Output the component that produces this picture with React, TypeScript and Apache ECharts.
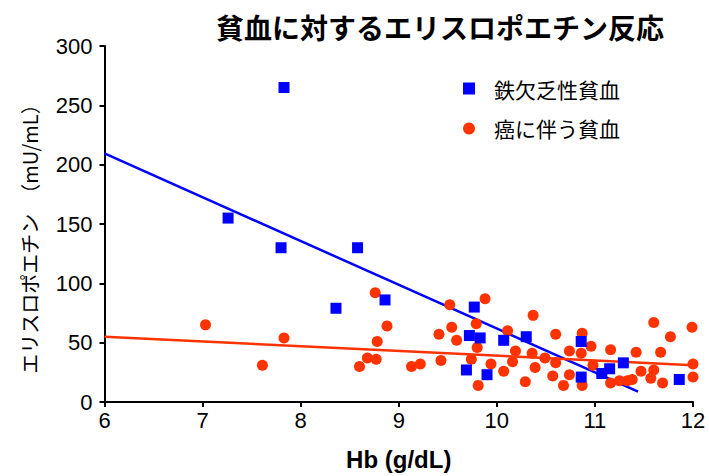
import React, { useEffect, useRef } from "react";
import * as echarts from "echarts";

const titleText = "貧血に対するエリスロポエチン反応";
const seriesNames = ["鉄欠乏性貧血", "癌に伴う貧血"];
const xAxisName = "Hb (g/dL)";
const yAxisName = "エリスロポエチン　（mU/mL）";

const ironHb = [7.83, 7.26, 7.80, 8.58, 8.36, 8.86, 9.77, 9.72, 9.83, 10.07, 10.30, 10.86, 9.69, 9.90, 10.86, 11.07, 11.15, 11.29, 11.86];
const ironEpo = [265, 155, 130, 130, 79, 86, 80, 56, 54, 52, 55, 51, 27, 23, 21, 24, 28, 33, 19];

const cancerHb = [7.03, 7.61, 7.83, 8.60, 8.68, 8.76, 8.77, 8.78, 8.88, 9.13, 9.22, 9.41, 9.43, 9.52, 9.54, 9.59, 9.74, 9.79, 9.80, 9.81, 9.88, 9.94, 10.07, 10.11, 10.16, 10.19, 10.29, 10.36, 10.37, 10.39, 10.49, 10.57, 10.60, 10.60, 10.68, 10.74, 10.74, 10.86, 10.87, 10.87, 10.96, 10.98, 11.16, 11.16, 11.25, 11.33, 11.38, 11.42, 11.47, 11.57, 11.60, 11.60, 11.67, 11.69, 11.77, 11.99, 12.0, 12.0];
const cancerEpo = [65, 31, 54, 30, 37, 92, 36, 51, 64, 30, 32, 57, 35, 82, 63, 52, 36, 66, 46, 14, 87, 32, 26, 60, 34, 43, 17, 41, 73, 29, 37, 22, 57, 33, 14, 43, 23, 41, 58, 14, 47, 31, 44, 16, 18, 18, 19, 42, 26, 20, 67, 27, 42, 16, 55, 63, 32, 21];

const ironFitHb = [6, 11.44];
const ironFitEpo = [209.5, 8.7];
const cancerFitHb = [6, 12];
const cancerFitEpo = [55, 31];

const xTicks = [6, 7, 8, 9, 10, 11, 12];
const yTicks = [0, 50, 100, 150, 200, 250, 300];

const BLUE = "#0000ff";
const RED = "#ff3300";
const LATIN = "'Liberation Sans', Arial, sans-serif";
const CJK = "'Noto Sans CJK JP', 'Liberation Sans', sans-serif";

const zip = (a: number[], b: number[]) => a.map((v, i) => [v, b[i]]);

export default function App() {
  const ref = useRef<HTMLDivElement>(null);
  useEffect(() => {
    if (!ref.current) return;
    const chart = echarts.init(ref.current, undefined, { renderer: "svg" });
    chart.setOption({
      animation: false,
      backgroundColor: "#ffffff",
      title: {
        text: titleText,
        left: 211,
        top: 8,
        textStyle: { fontFamily: CJK, fontSize: 28, fontWeight: "bold", color: "#000" },
      },
      legend: {
        data: seriesNames,
        orient: "vertical",
        left: 463,
        top: 78,
        padding: 0,
        itemWidth: 12,
        itemHeight: 12,
        itemGap: 19,
        textStyle: { fontFamily: CJK, fontSize: 21, color: "#000", padding: [0, 0, 0, 14] },
      },
      graphic: [
        {
          type: "text",
          x: 29,
          y: 234,
          rotation: Math.PI / 2,
          style: {
            text: yAxisName,
            fontFamily: CJK,
            fontSize: 20,
            fill: "#000",
            align: "center",
            verticalAlign: "middle",
          },
        },
      ],
      grid: { left: 104.5, right: 16, top: 46, bottom: 72.3, containLabel: false },
      xAxis: {
        type: "value",
        min: xTicks[0],
        max: xTicks[xTicks.length - 1],
        interval: 1,
        name: xAxisName,
        nameLocation: "middle",
        nameGap: 45,
        nameTextStyle: { fontFamily: LATIN, fontSize: 24, fontWeight: "bold", color: "#000" },
        axisLine: { show: true, onZero: false, lineStyle: { color: "#000", width: 2 } },
        axisTick: { show: true, inside: false, length: 5, lineStyle: { color: "#000", width: 2 } },
        axisLabel: { fontFamily: LATIN, fontSize: 22, color: "#000", margin: 7 },
        splitLine: { show: false },
      },
      yAxis: {
        type: "value",
        min: yTicks[0],
        max: yTicks[yTicks.length - 1],
        interval: 50,
        axisLine: { show: true, lineStyle: { color: "#000", width: 2 } },
        axisTick: { show: true, inside: false, length: 5, lineStyle: { color: "#000", width: 2 } },
        axisLabel: { fontFamily: LATIN, fontSize: 22, color: "#000", margin: 12 },
        splitLine: { show: false },
      },
      series: [
        {
          name: "ironFit",
          type: "line",
          data: zip(ironFitHb, ironFitEpo),
          showSymbol: false,
          symbol: "none",
          lineStyle: { color: BLUE, width: 2.5 },
          z: 1,
        },
        {
          name: "cancerFit",
          type: "line",
          data: zip(cancerFitHb, cancerFitEpo),
          showSymbol: false,
          symbol: "none",
          lineStyle: { color: RED, width: 2.5 },
          z: 1,
        },
        {
          name: seriesNames[1],
          type: "scatter",
          data: zip(cancerHb, cancerEpo),
          symbol: "circle",
          symbolSize: 11,
          itemStyle: { color: RED, opacity: 1 },
          z: 2,
        },
        {
          name: seriesNames[0],
          type: "scatter",
          data: zip(ironHb, ironEpo),
          symbol: "rect",
          symbolSize: 11,
          itemStyle: { color: BLUE, opacity: 1 },
          z: 3,
        },
      ],
    });
    return () => chart.dispose();
  }, []);
  return (
    <div
      ref={ref}
      style={{ position: "fixed", left: 0, top: 0, width: 709, height: 476, background: "#fff" }}
    />
  );
}
